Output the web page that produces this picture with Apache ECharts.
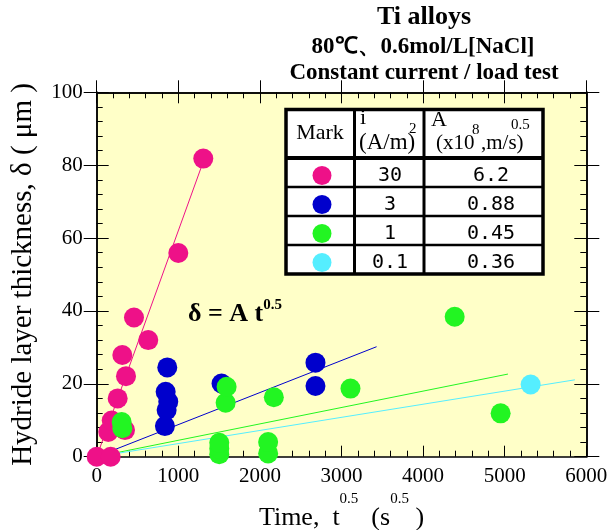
<!DOCTYPE html>
<html>
<head>
<meta charset="utf-8">
<script src="https://cdn.jsdelivr.net/npm/echarts@6/dist/echarts.min.js"></script>
<style>
  html, body { margin: 0; padding: 0; background: #ffffff; }
  #chart { width: 611px; height: 530px; }
</style>
</head>
<body>
<div id="chart"></div>
<script>
// Hydride layer thickness δ versus square-root time, Ti alloys at 80 °C in 0.6 mol/L NaCl

// measured points per current density: t^0.5 (s^0.5) and δ (μm)
const i30T = [0, 171, 142, 184, 347, 257, 359, 314, 457, 632, 1000, 1306];
const i30D = [0, 0, 6.8, 9.9, 7.3, 16, 22.1, 27.9, 38.2, 32, 55.9, 81.8];
const i3T = [836, 857, 877, 845, 865, 1530, 2681, 2681];
const i3D = [8.4, 12.8, 15.1, 17.8, 24.5, 20.1, 19.4, 25.8];
const i1T = [306, 314, 1502, 1502, 1502, 1580, 1592, 2101, 2101, 2171, 3110, 4387, 4950];
const i1D = [9.5, 7.8, 0.7, 2.2, 3.8, 14.8, 19.2, 0.9, 4.0, 16.3, 18.7, 38.4, 11.9];
const i01T = [5318];
const i01D = [19.8];

// table contents: current density i (A/m2) and rate constant A (x10^-8 m/s^0.5)
const currents = ['30', '3', '1', '0.1'];
const coefA = [6.2, 0.88, 0.45, 0.36];
// extent of each fitted line δ = A t^0.5 along the time axis
const fitEndT = [1300, 3430, 5040, 5860];

const xTickValues = [0, 1000, 2000, 3000, 4000, 5000, 6000];
const yTickValues = [0, 20, 40, 60, 80, 100];

const colors = ['#EE1188', '#0000CC', '#22F522', '#55EEFF'];
const serif = '"Liberation Serif", "Times New Roman", serif';

const pairs = (xs, ys) => xs.map((x, k) => [x, ys[k]]);
const groups = [pairs(i30T, i30D), pairs(i3T, i3D), pairs(i1T, i1D), pairs(i01T, i01D)];
// A in 1e-8 m/s^0.5 -> δ in μm is A/100 per unit of t^0.5
const fitLine = k => [[0, 0], [fitEndT[k], coefA[k] / 100 * fitEndT[k]]];

const chart = echarts.init(document.getElementById('chart'), null, { renderer: 'canvas' });

const axisLineStyle = { color: '#000', width: 1.5 };
const tickStyle = { color: '#000', width: 1 };

function xAxisDef(position, inside, showLabel, majorLen, minor) {
  return {
    type: 'value', min: 0, max: 6000, interval: 1000, position: position,
    axisLine: { show: true, onZero: false, lineStyle: axisLineStyle },
    axisTick: { show: true, inside: inside, length: majorLen, lineStyle: tickStyle },
    minorTick: { show: minor, splitNumber: 5, length: 6, lineStyle: tickStyle },
    splitLine: { show: false }, minorSplitLine: { show: false },
    axisLabel: {
      show: showLabel, margin: 9, color: '#000', fontSize: 21, fontFamily: serif,
      formatter: v => xTickValues.includes(v) ? String(v) : ''
    }
  };
}
function yAxisDef(position, inside, showLabel, majorLen, minor) {
  return {
    type: 'value', min: 0, max: 100, interval: 20, position: position,
    axisLine: { show: true, onZero: false, lineStyle: axisLineStyle },
    axisTick: { show: true, inside: inside, length: majorLen, lineStyle: tickStyle },
    minorTick: { show: minor, splitNumber: 5, length: 6, lineStyle: tickStyle },
    splitLine: { show: false }, minorSplitLine: { show: false },
    axisLabel: {
      show: showLabel, margin: 14, color: '#000', fontSize: 21, fontFamily: serif,
      formatter: v => yTickValues.includes(v) ? String(v) : ''
    }
  };
}

const xMain = xAxisDef('bottom', true, true, 11, true);
xMain.name = 'Time,  t{s|0.5}  (s{s|0.5} )';
xMain.nameLocation = 'middle';
xMain.nameGap = 19;
xMain.nameTextStyle = {
  color: '#000', fontSize: 26, fontFamily: serif, lineHeight: 54,
  rich: { s: { fontSize: 15, fontFamily: serif, lineHeight: 14, verticalAlign: 'top', color: '#000' } }
};

const yMain = yAxisDef('left', true, true, 12, true);
yMain.name = 'Hydride layer thickness, δ ( μm )';
yMain.nameLocation = 'middle';
yMain.nameGap = 59;
yMain.nameTextStyle = { color: '#000', fontSize: 29, fontFamily: serif };

// line series (fits) go first so the markers sit on top of them
const series = [];
for (let k = 0; k < 4; k++) {
  series.push({
    type: 'line', data: fitLine(k), symbol: 'none', silent: true,
    lineStyle: { color: colors[k], width: 1 }, z: 2
  });
}
for (let k = 0; k < 4; k++) {
  series.push({
    type: 'scatter', data: groups[k], symbol: 'circle', symbolSize: 20, clip: false,
    itemStyle: { color: colors[k], opacity: 1 }, z: 3
  });
}

// table of marks, current densities and rate constants
const tbl = { left: 286, right: 543, top: 109.5, bottom: 274, col1: 354.5, col2: 424, head: 158 };
const rowH = (tbl.bottom - tbl.head) / 4;
const graphics = [];
graphics.push({ type: 'rect', shape: { x: tbl.left, y: tbl.top, width: tbl.right - tbl.left, height: tbl.bottom - tbl.top },
  style: { fill: '#fff', stroke: '#000', lineWidth: 3.5 }, z: 10 });
graphics.push({ type: 'line', shape: { x1: tbl.left, y1: tbl.head, x2: tbl.right, y2: tbl.head }, style: { stroke: '#000', lineWidth: 4 }, z: 11 });
for (let r = 1; r < 4; r++) {
  const y = tbl.head + r * rowH;
  graphics.push({ type: 'line', shape: { x1: tbl.left, y1: y, x2: tbl.right, y2: y }, style: { stroke: '#000', lineWidth: 2.6 }, z: 11 });
}
[tbl.col1, tbl.col2].forEach(x => graphics.push({ type: 'line', shape: { x1: x, y1: tbl.top, x2: x, y2: tbl.bottom }, style: { stroke: '#000', lineWidth: 3 }, z: 11 }));

const txt = (x, y, text, size, align, extra) => Object.assign({
  type: 'text', x: x, y: y, z: 12,
  style: Object.assign({ text: text, fill: '#000', fontSize: size, fontFamily: serif, align: align, verticalAlign: 'middle' }, extra || {})
});
graphics.push(txt(320, 133, 'Mark', 22, 'center'));
graphics.push(txt(360, 118, 'i', 22, 'left'));
graphics.push(txt(359, 143, '(A/m)', 23, 'left'));
graphics.push(txt(409, 129, '2', 15, 'left'));
graphics.push(txt(431, 120, 'A', 22, 'left'));
graphics.push(txt(436, 143, '(x10', 21, 'left'));
graphics.push(txt(472, 130, '8', 15, 'left'));
graphics.push(txt(481, 143, ',m/s)', 21, 'left'));
graphics.push(txt(511, 125, '0.5', 15, 'left'));

const mono = '"DejaVu Sans Mono", monospace';
for (let r = 0; r < 4; r++) {
  const cy = tbl.head + (r + 0.5) * rowH + 3;
  graphics.push({ type: 'circle', shape: { cx: 322, cy: cy, r: 9.5 }, style: { fill: colors[r] }, z: 12 });
  graphics.push(txt(390, cy, currents[r], 20, 'center', { fontFamily: mono }));
  graphics.push(txt(491, cy, String(coefA[r]), 20, 'center', { fontFamily: mono }));
}

// titles
graphics.push(txt(424, 17, 'Ti alloys', 26, 'center', { fontWeight: 'bold' }));
graphics.push(txt(423, 47, '80℃、0.6mol/L[NaCl]', 23, 'center', { fontWeight: 'bold' }));
graphics.push(txt(424, 73, 'Constant current / load test', 23, 'center', { fontWeight: 'bold' }));

// growth law annotation
graphics.push(txt(188, 314, 'δ = A t{s|0.5}', 26, 'left', {
  fontWeight: 'bold', lineHeight: 33,
  rich: { s: { fontSize: 15, fontWeight: 'bold', fontFamily: serif, lineHeight: 15, verticalAlign: 'top', fill: '#000' } }
}));

chart.setOption({
  animation: false,
  backgroundColor: '#ffffff',
  grid: {
    left: 96.7, right: 24.7, top: 92.3, bottom: 73.3, show: true,
    backgroundColor: '#FFFFC8', borderWidth: 0, containLabel: false, outerBoundsMode: 'none'
  },
  xAxis: [
    xMain,
    xAxisDef('top', true, false, 11, true),
    xAxisDef('top', false, false, 12, false)
  ],
  yAxis: [
    yMain,
    yAxisDef('left', false, false, 13, false),
    yAxisDef('right', true, false, 12, true),
    yAxisDef('right', false, false, 13, false)
  ],
  series: series,
  graphic: graphics
});
</script>
</body>
</html>
